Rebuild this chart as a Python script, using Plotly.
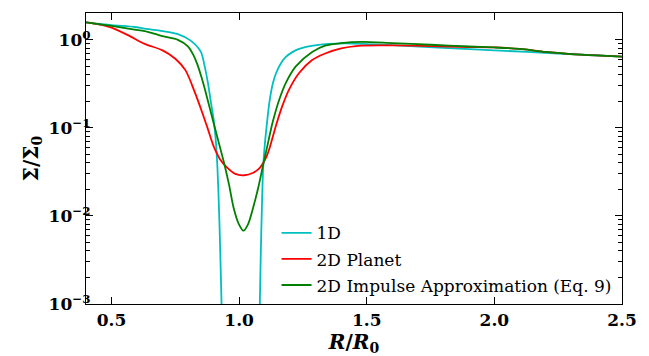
import plotly.graph_objects as go

# Surface density profiles around the gap, normalised to Sigma_0
r_1d = [0.40, 0.50, 0.59, 0.63, 0.70, 0.76, 0.81, 0.85, 0.865, 0.878, 0.89, 0.90,
        0.908, 0.915, 0.922, 0.927, 0.931, 0.936, 0.95, 1.00, 1.06, 1.074, 1.078,
        1.081, 1.085, 1.089, 1.094, 1.100, 1.107, 1.119, 1.132, 1.145, 1.165, 1.183,
        1.21, 1.235, 1.29, 1.35, 1.42, 1.50, 1.60, 1.80, 2.00, 2.25, 2.50]
sigma_1d = [1.58, 1.47, 1.40, 1.34, 1.26, 1.16, 0.98, 0.73, 0.50, 0.32, 0.19, 0.125,
            0.075, 0.035, 0.01, 0.003, 0.001, 0.0002, 0.00003, 0.00001, 0.00003, 0.0002, 0.0004,
            0.001, 0.004, 0.012, 0.035, 0.062, 0.10, 0.20, 0.32, 0.42, 0.55, 0.64,
            0.73, 0.79, 0.86, 0.90, 0.91, 0.895, 0.87, 0.81, 0.76, 0.70, 0.645]

r_planet = [0.40, 0.45, 0.50, 0.57, 0.63, 0.70, 0.75, 0.79, 0.825, 0.857, 0.876, 0.90,
            0.925, 0.95, 0.985, 1.02, 1.055, 1.08, 1.094, 1.107, 1.12, 1.145, 1.17, 1.196,
            1.235, 1.286, 1.337, 1.40, 1.48, 1.60, 1.75, 1.90, 2.00, 2.10, 2.20, 2.30,
            2.40, 2.50]
sigma_planet = [1.58, 1.50, 1.38, 1.11, 0.90, 0.76, 0.61, 0.45, 0.26, 0.145, 0.100, 0.062,
                0.044, 0.036, 0.030, 0.029, 0.031, 0.035, 0.040, 0.047, 0.060, 0.108, 0.18, 0.274,
                0.42, 0.59, 0.70, 0.80, 0.86, 0.865, 0.85, 0.83, 0.82, 0.79, 0.73, 0.69,
                0.665, 0.645]

r_impulse = [0.40, 0.50, 0.59, 0.63, 0.70, 0.76, 0.80, 0.82, 0.837, 0.852, 0.865, 0.888,
             0.91, 0.94, 0.96, 0.978, 0.998, 1.017, 1.036, 1.055, 1.075, 1.094, 1.107,
             1.132, 1.158, 1.183, 1.222, 1.286, 1.337, 1.40, 1.48, 1.60, 1.75, 1.90,
             2.00, 2.10, 2.20, 2.30, 2.40, 2.50]
sigma_impulse = [1.58, 1.44, 1.31, 1.26, 1.10, 1.00, 0.84, 0.68, 0.52, 0.38, 0.28, 0.155,
                 0.088, 0.041, 0.023, 0.0125, 0.0082, 0.0068, 0.0082, 0.0125, 0.021, 0.038, 0.056,
                 0.118, 0.213, 0.325, 0.50, 0.73, 0.86, 0.92, 0.95, 0.92, 0.88, 0.84,
                 0.82, 0.79, 0.73, 0.69, 0.665, 0.645]

x_ticks = [0.5, 1.0, 1.5, 2.0, 2.5]
x_labels = ["0.5", "1.0", "1.5", "2.0", "2.5"]
y_ticks = [0.001, 0.01, 0.1, 1]
y_labels = ["10<sup>−3</sup>", "10<sup>−2</sup>", "10<sup>−1</sup>", "10<sup>0</sup>"]
y_minor = [m * 10.0 ** e for e in (-3, -2, -1, 0) for m in range(2, 10)]

FONT = "DejaVu Serif"

fig = go.Figure()
series = [
    ("1D", r_1d, sigma_1d, "#00bfbf"),
    ("2D Planet", r_planet, sigma_planet, "#ff0000"),
    ("2D Impulse Approximation (Eq. 9)", r_impulse, sigma_impulse, "#008000"),
]
for name, xs, ys, color in series:
    fig.add_trace(go.Scatter(
        x=xs, y=ys, mode="lines", name=name, legendgroup=name,
        line=dict(color=color, width=1.8, shape="spline", smoothing=0.8),
    ))

axis_common = dict(
    showline=True, linecolor="black", linewidth=1.2, mirror="allticks",
    ticks="inside", ticklen=7, tickwidth=1.4, tickcolor="black",
    showgrid=False, zeroline=False,
    tickfont=dict(family=FONT, size=17, color="black", weight="bold"),
)

fig.update_xaxes(
    range=[0.4, 2.5], tickmode="array", tickvals=x_ticks, ticktext=x_labels,
    title=dict(text="<i>R</i>/<i>R</i><sub>0</sub>", standoff=0,
               font=dict(family=FONT, size=20, color="black", weight="bold")),
    **axis_common,
)
fig.update_yaxes(
    type="log", range=[-3, 0.305], tickmode="array", tickvals=y_ticks, ticktext=y_labels,
    ticklabelstandoff=-9,
    minor=dict(tickmode="array", tickvals=y_minor, ticks="inside", ticklen=4,
               tickwidth=1, tickcolor="black", showgrid=False),
    title=dict(text="Σ/Σ<sub>0</sub>", standoff=4,
               font=dict(family=FONT, size=20, color="black", weight="bold")),
    **axis_common,
)

fig.update_layout(
    width=649, height=356,
    margin=dict(l=86, r=16, t=13, b=43),
    paper_bgcolor="white", plot_bgcolor="white",
    showlegend=True,
    legend=dict(
        x=0.3555, y=0.305, xanchor="left", yanchor="top",
        bgcolor="rgba(0,0,0,0)", borderwidth=0,
        font=dict(family=FONT, size=17, color="black"),
        tracegroupgap=1,
    ),
)

fig.write_html("out.html")
